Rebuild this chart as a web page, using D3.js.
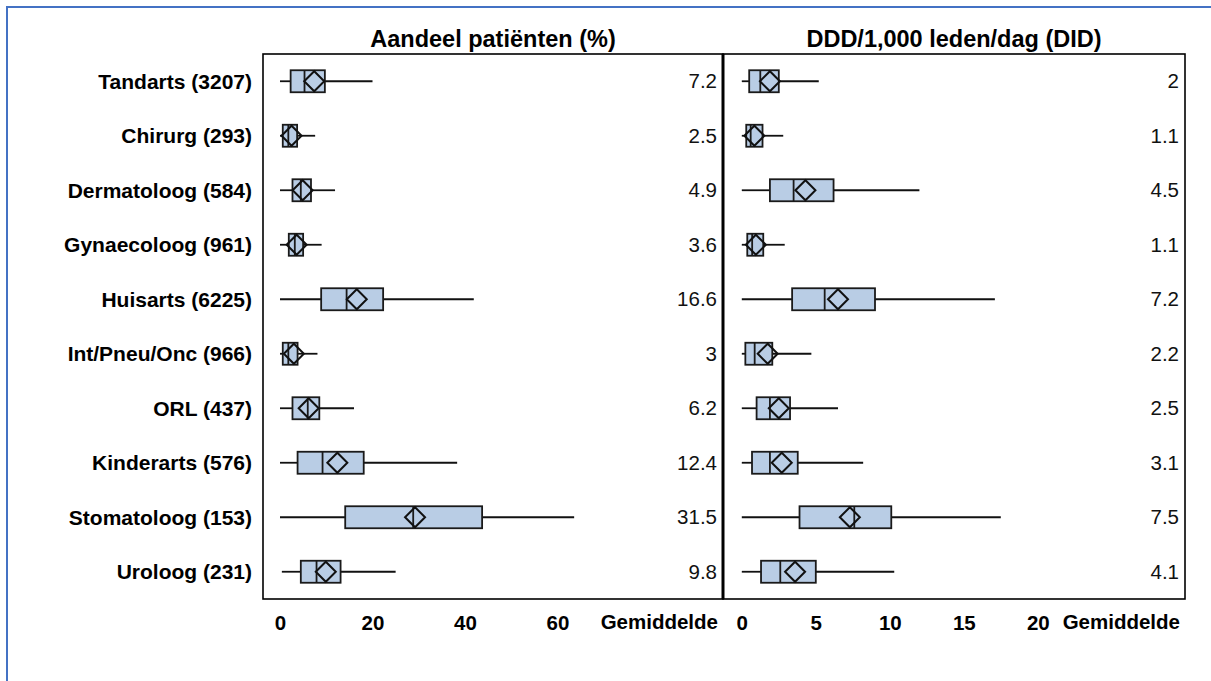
<!DOCTYPE html>
<html>
<head>
<meta charset="utf-8">
<script src="https://cdn.jsdelivr.net/npm/d3@7"></script>
<style>
  html, body { margin: 0; padding: 0; background: #fff; }
  svg { display: block; font-family: "Liberation Sans", Arial, sans-serif; }
</style>
</head>
<body>
<svg id="chart" width="1211" height="681"></svg>
<script>
// ---------- data ----------
const categories = ["Tandarts (3207)", "Chirurg (293)", "Dermatoloog (584)", "Gynaecoloog (961)",
  "Huisarts (6225)", "Int/Pneu/Onc (966)", "ORL (437)", "Kinderarts (576)",
  "Stomatoloog (153)", "Uroloog (231)"];

// Panel 1: Aandeel patiënten (%)
const pctMin    = [0, 0, 0, 0, 0, 0, 0, 0, 0, 0.4];
const pctQ1     = [2.3, 0.6, 2.7, 1.9, 8.9, 0.6, 2.7, 3.8, 14.1, 4.5];
const pctMedian = [5.3, 1.8, 4.5, 3.2, 14.4, 1.8, 6.0, 9.2, 28.8, 7.9];
const pctQ3     = [9.7, 3.7, 6.7, 5.0, 22.3, 3.8, 8.5, 18.1, 43.7, 13.1];
const pctMax    = [20, 7.6, 11.9, 9.0, 41.9, 8.1, 16.0, 38.3, 63.6, 25.0];
const pctMean   = [7.4, 2.5, 4.9, 3.6, 16.6, 3.0, 6.2, 12.4, 29.2, 9.9];
const pctMeanLabels = ["7.2", "2.5", "4.9", "3.6", "16.6", "3", "6.2", "12.4", "31.5", "9.8"];
const pctTicks  = [0, 20, 40, 60];

// Panel 2: DDD/1,000 leden/dag (DID)
const didMin    = [0, 0, 0, 0, 0, 0, 0, 0, 0, 0];
const didQ1     = [0.5, 0.3, 1.9, 0.37, 3.4, 0.24, 1.0, 0.69, 3.9, 1.3];
const didMedian = [1.25, 0.6, 3.5, 0.7, 5.6, 0.87, 1.9, 1.9, 7.6, 2.6];
const didQ3     = [2.5, 1.4, 6.2, 1.45, 9.0, 2.06, 3.26, 3.78, 10.1, 5.0];
const didMax    = [5.2, 2.8, 12.0, 2.9, 17.1, 4.7, 6.5, 8.2, 17.5, 10.3];
const didMean   = [1.9, 0.85, 4.3, 0.95, 6.5, 1.75, 2.5, 2.7, 7.3, 3.6];
const didMeanLabels = ["2", "1.1", "4.5", "1.1", "7.2", "2.2", "2.5", "3.1", "7.5", "4.1"];
const didTicks  = [0, 5, 10, 15, 20];

const panelTitles = ["Aandeel patiënten (%)", "DDD/1,000 leden/dag (DID)"];
const meanColumnLabel = "Gemiddelde";

// ---------- layout ----------
const svg = d3.select("#chart");
const plotTop = 54, plotBottom = 599;
const panels = [
  { x0: 263, x1: 723, title: panelTitles[0], domain: [0, 60], range: [280, 557.5], ticks: pctTicks,
    min: pctMin, q1: pctQ1, med: pctMedian, q3: pctQ3, max: pctMax, mean: pctMean, labels: pctMeanLabels },
  { x0: 723, x1: 1185, title: panelTitles[1], domain: [0, 20], range: [741.8, 1037.8], ticks: didTicks,
    min: didMin, q1: didQ1, med: didMedian, q3: didQ3, max: didMax, mean: didMean, labels: didMeanLabels }
];

// outer blue border (only top/left visible in frame)
svg.append("rect").attr("x", 7).attr("y", 7).attr("width", 1300).attr("height", 800)
  .attr("fill", "none").attr("stroke", "#4472c4").attr("stroke-width", 2);

const y = d3.scalePoint().domain(categories).range([plotTop, plotBottom]).padding(0.5);
const boxH = 22;
const dHalf = 10;

// category labels
svg.append("g").selectAll("text").data(categories).join("text")
  .attr("x", 252).attr("y", d => y(d)).attr("dy", "0.35em")
  .attr("text-anchor", "end").attr("font-size", 21).attr("font-weight", "bold")
  .attr("fill", "#000").text(d => d);

panels.forEach(p => {
  const x = d3.scaleLinear().domain(p.domain).range(p.range);
  const g = svg.append("g");

  // title
  g.append("text").attr("x", (p.x0 + p.x1) / 2).attr("y", 47)
    .attr("text-anchor", "middle").attr("font-size", 23.5).attr("font-weight", "bold").text(p.title);

  const rows = categories.map((c, i) => ({ c, i }));
  const row = g.selectAll("g.row").data(rows).join("g").attr("class", "row");

  // whiskers
  row.append("line").attr("x1", d => x(p.min[d.i])).attr("x2", d => x(p.q1[d.i]))
    .attr("y1", d => y(d.c)).attr("y2", d => y(d.c)).attr("stroke", "#111").attr("stroke-width", 1.8);
  row.append("line").attr("x1", d => x(p.q3[d.i])).attr("x2", d => x(p.max[d.i]))
    .attr("y1", d => y(d.c)).attr("y2", d => y(d.c)).attr("stroke", "#111").attr("stroke-width", 1.8);
  // box
  row.append("rect").attr("x", d => x(p.q1[d.i])).attr("y", d => y(d.c) - boxH / 2)
    .attr("width", d => x(p.q3[d.i]) - x(p.q1[d.i])).attr("height", boxH)
    .attr("fill", "#b9cde5").attr("stroke", "#1a1a1a").attr("stroke-width", 1.8);
  // median
  row.append("line").attr("x1", d => x(p.med[d.i])).attr("x2", d => x(p.med[d.i]))
    .attr("y1", d => y(d.c) - boxH / 2).attr("y2", d => y(d.c) + boxH / 2)
    .attr("stroke", "#1a1a1a").attr("stroke-width", 1.8);
  // mean diamond
  row.append("path")
    .attr("d", d => {
      const cx = x(p.mean[d.i]), cy = y(d.c);
      return `M${cx - dHalf},${cy}L${cx},${cy - dHalf}L${cx + dHalf},${cy}L${cx},${cy + dHalf}Z`;
    })
    .attr("fill", "none").attr("stroke", "#111").attr("stroke-width", 2);

  // mean labels
  row.append("text").attr("x", p.x1 - 6).attr("y", d => y(d.c)).attr("dy", "0.35em")
    .attr("text-anchor", "end").attr("font-size", 20.5).attr("fill", "#111")
    .text(d => p.labels[d.i]);

  // axis
  const axis = g.append("g").attr("transform", `translate(0,${plotBottom})`)
    .call(d3.axisBottom(x).tickValues(p.ticks).tickSize(0).tickPadding(16).tickFormat(d3.format("d")));
  axis.select(".domain").remove();
  axis.selectAll("text").attr("font-size", 20.5).attr("font-weight", "bold")
    .attr("fill", "#000").attr("font-family", "Liberation Sans, Arial, sans-serif");

  g.append("text").attr("x", p.x1 - 5).attr("y", 629).attr("text-anchor", "end")
    .attr("font-size", 20.5).attr("font-weight", "bold").text(meanColumnLabel);

  // panel frame
  g.append("rect").attr("x", p.x0).attr("y", plotTop).attr("width", p.x1 - p.x0).attr("height", plotBottom - plotTop)
    .attr("fill", "none").attr("stroke", "#000").attr("stroke-width", 1.6);
});

// thick divider between panels
svg.append("line").attr("x1", 723).attr("x2", 723).attr("y1", plotTop).attr("y2", plotBottom)
  .attr("stroke", "#000").attr("stroke-width", 3);
</script>
</body>
</html>
